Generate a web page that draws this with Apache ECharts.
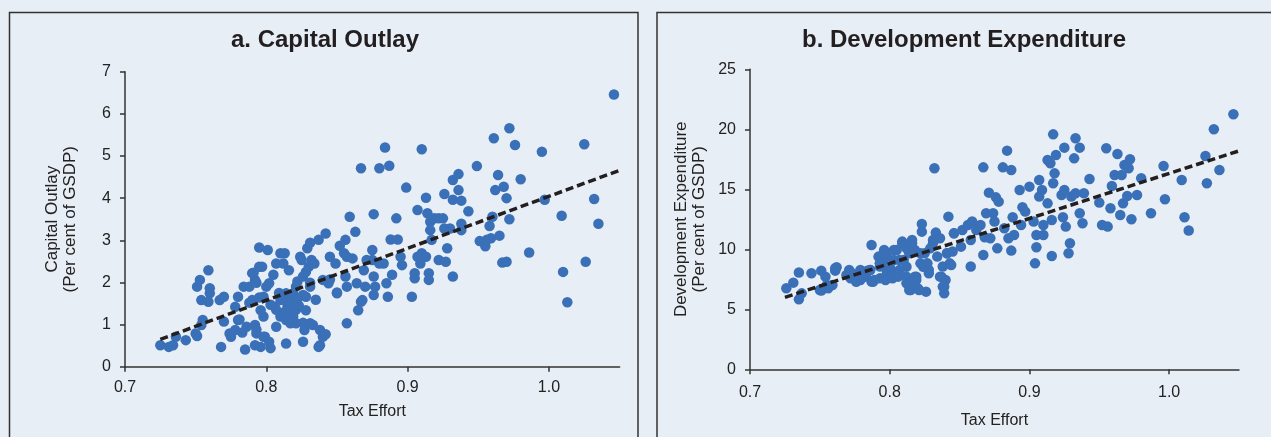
<!DOCTYPE html>
<html>
<head>
<meta charset="utf-8">
<script src="https://cdn.jsdelivr.net/npm/echarts@6/dist/echarts.min.js"></script>
<style>
html,body{margin:0;padding:0;background:#e8eef5;}
#c{width:1271px;height:437px;}
</style>
</head>
<body>
<div id="c"></div>
<script>
// ---- Panel a: Capital Outlay ----
const capTaxEffort = [
0.725,0.731,0.734,0.736,0.743,0.751,0.750,0.751,0.753,0.759,0.760,0.760,0.754,0.759,0.755,0.754,
0.768,0.770,0.767,0.770,0.774,0.775,0.778,0.780,0.778,0.780,0.784,0.785,0.786,0.788,0.790,0.792,
0.795,0.795,0.797,0.792,0.796,0.792,0.793,0.798,0.799,0.803,0.802,0.796,0.790,0.798,0.800,0.802,
0.801,0.805,0.807,0.807,0.810,0.813,0.812,0.816,0.814,0.806,0.810,0.814,0.815,0.817,0.810,0.814,
0.817,0.821,0.819,0.819,0.821,0.822,0.824,0.825,0.826,0.827,0.828,0.828,0.828,0.829,0.831,0.830,
0.832,0.834,0.831,0.831,0.833,0.837,0.838,0.838,0.840,0.842,0.837,0.842,0.840,0.844,0.845,0.849,
0.850,0.852,0.856,0.855,0.857,0.856,0.857,0.857,0.859,0.861,0.863,0.864,0.865,0.867,0.868,0.867,
0.875,0.875,0.876,0.876,0.876,0.877,0.870,0.869,0.871,0.880,0.880,0.883,0.884,0.887,0.886,0.885,
0.888,0.889,0.892,0.893,0.895,0.896,0.899,0.903,0.905,0.905,0.907,0.907,0.909,0.910,0.910,0.913,
0.913,0.915,0.915,0.914,0.916,0.916,0.917,0.919,0.922,0.922,0.925,0.926,0.926,0.927,0.928,0.930,
0.932,0.932,0.932,0.936,0.936,0.938,0.938,0.938,0.943,0.949,0.951,0.955,0.956,0.958,0.959,0.960,
0.961,0.962,0.964,0.965,0.967,0.968,0.970,0.970,0.972,0.972,0.976,0.980,0.986,0.995,0.997,1.009,
1.010,1.013,1.025,1.026,1.032,1.035,1.046,
0.812,0.817,0.821,0.819,0.826,0.807,0.803,0.795,0.788,0.781,0.783,0.793,0.798,0.791,0.793,0.826,
0.831,0.835,0.845,0.850,0.818,0.823,0.809,0.826,0.813,0.822
];
const capOutlay = [
0.51,0.47,0.51,0.71,0.63,0.73,0.79,1.90,2.06,2.29,1.86,1.74,1.58,1.54,1.11,0.99,
0.47,1.07,1.58,1.66,0.79,0.71,0.87,1.11,1.42,1.66,1.90,0.41,0.95,1.90,2.22,2.06,
2.83,2.37,2.37,0.51,0.47,0.99,0.79,1.19,0.71,0.44,0.59,1.34,1.58,1.66,1.90,1.98,
2.77,2.18,0.95,2.45,2.69,2.69,2.45,2.29,0.55,1.42,1.58,1.74,1.42,1.27,1.19,1.11,
1.03,1.03,1.19,1.74,1.90,2.02,2.61,2.53,0.59,0.87,1.34,1.66,2.25,2.81,2.94,2.37,
2.53,2.45,1.90,1.03,0.99,0.47,0.51,0.87,0.71,0.77,3.01,3.16,2.06,1.98,2.61,2.45,
1.74,2.87,3.01,2.69,2.61,2.14,1.90,1.03,3.56,2.57,3.20,1.98,1.34,1.54,1.58,4.71,
2.53,2.77,3.62,2.14,1.70,1.90,1.90,2.29,2.53,4.71,2.45,2.45,5.20,4.77,1.66,1.98,
3.02,2.18,3.52,3.02,2.61,2.41,4.25,1.66,2.22,2.10,2.61,3.72,2.45,5.16,2.69,4.01,
2.61,2.22,2.06,3.64,3.44,3.24,3.01,3.52,3.52,2.53,3.52,4.10,3.28,2.49,2.81,3.28,
2.14,4.43,3.96,4.57,4.19,3.94,3.39,3.24,3.69,4.76,2.98,2.86,3.01,3.34,3.05,3.56,
5.42,4.19,4.55,3.11,2.47,4.27,4.00,2.49,3.50,5.66,5.26,4.45,2.71,5.10,3.96,3.58,
2.25,1.53,5.28,2.49,3.98,3.39,6.46,
1.59,1.43,1.35,1.12,1.04,1.35,1.47,1.64,1.52,1.12,0.81,0.88,0.71,2.23,1.99,2.14,
1.99,1.59,2.07,1.76,1.55,1.45,1.75,1.70,1.30,1.62
];
const capTrendX = [0.725, 1.05];
const capTrendY = [0.65, 4.66];

// ---- Panel b: Development Expenditure ----
const devTaxEffort = [
0.726,0.731,0.735,0.735,0.737,0.744,0.751,0.751,0.754,0.756,0.759,0.761,0.762,0.771,0.773,0.776,
0.779,0.782,0.784,0.787,0.787,0.792,0.793,0.795,0.796,0.797,0.797,0.800,0.802,0.805,0.806,0.809,
0.810,0.812,0.813,0.815,0.816,0.818,0.819,0.820,0.822,0.823,0.823,0.825,0.826,0.827,0.828,0.829,
0.831,0.832,0.833,0.836,0.837,0.838,0.838,0.839,0.840,0.841,0.842,0.844,0.845,0.846,0.851,0.852,
0.856,0.858,0.858,0.859,0.862,0.865,0.867,0.867,0.868,0.869,0.871,0.872,0.874,0.875,0.876,0.877,
0.878,0.881,0.882,0.884,0.885,0.887,0.887,0.888,0.889,0.893,0.894,0.895,0.897,0.900,0.903,0.904,
0.905,0.905,0.907,0.907,0.909,0.910,0.910,0.913,0.913,0.915,0.916,0.916,0.917,0.917,0.918,0.919,
0.923,0.924,0.925,0.925,0.926,0.928,0.929,0.930,0.932,0.933,0.933,0.936,0.936,0.938,0.939,0.943,
0.950,0.952,0.955,0.956,0.958,0.959,0.961,0.963,0.965,0.966,0.967,0.968,0.970,0.971,0.972,0.973,
0.977,0.980,0.987,0.996,0.997,1.009,1.011,1.014,1.026,1.027,1.032,1.036,1.046,
0.772,0.779,0.783,0.788,0.793,0.798,0.802,0.807,0.812,0.793,0.798,0.807,0.814,0.812,0.814,0.819,
0.786,0.781,0.776,0.769,0.755,0.750,0.761,
0.772,0.779,0.786,0.789,0.796,0.793,0.798,0.803,0.805,0.809,0.812,0.816,0.815,0.821,0.818,0.822,
0.824,0.828,0.831,0.834,0.836,0.839,0.841,0.843,0.846,0.803,0.779
];
const devExpenditure = [
6.75,7.22,5.83,8.06,6.33,8.00,8.22,6.56,7.72,6.75,7.03,8.22,8.50,8.28,8.00,7.58,
7.72,7.86,8.22,10.36,7.31,9.39,8.56,8.83,9.94,7.44,9.39,8.56,8.14,9.94,7.72,10.64,
9.11,10.08,7.17,6.61,10.78,9.94,7.72,6.75,8.83,12.11,11.47,9.67,6.47,8.83,8.28,10.08,
10.78,16.75,11.39,10.92,7.72,8.56,6.89,6.33,7.44,9.67,12.72,8.69,9.81,11.33,10.22,11.61,
12.03,8.56,10.78,12.31,11.61,12.03,9.53,16.83,11.00,13.00,14.72,10.92,13.00,12.31,14.33,10.08,
13.97,16.83,11.75,18.22,10.92,9.89,16.61,12.67,11.19,14.94,12.03,13.50,13.14,15.22,12.31,8.83,
10.17,11.19,15.78,14.39,14.94,12.03,11.19,17.44,13.83,17.17,9.44,12.44,15.50,19.58,16.33,17.86,
14.53,12.67,18.47,14.94,11.89,9.67,10.50,14.39,17.58,19.25,14.67,13.00,18.47,12.17,14.67,15.86,
13.89,12.03,18.42,11.89,13.42,15.28,16.19,17.94,12.86,16.19,13.83,17.03,14.44,16.75,17.50,12.50,
14.53,15.92,13.00,16.94,14.17,15.78,12.67,11.56,17.78,15.50,20.00,16.61,21.25,
7.58,7.44,7.72,7.30,7.58,8.00,7.58,8.27,7.72,8.83,9.39,9.11,9.67,7.17,6.61,7.44,
8.27,8.00,7.30,7.86,7.03,6.61,8.42,
8.00,7.72,8.27,7.44,9.67,8.83,8.27,9.11,7.86,10.50,8.55,10.50,7.17,6.61,7.72,9.67,
8.55,8.00,10.50,9.39,7.72,6.89,9.67,8.83,11.33,9.94,8.27
];
const devTrendX = [0.725, 1.05];
const devTrendY = [6.0, 18.2];

const xTickValues = [0.7, 0.8, 0.9, 1.0];

function zip(a, b) { return a.map((v, i) => [v, b[i]]); }

const DOT = '#3a70b8';
const AXIS = '#333333';
const TXT = '#222222';
const FONT = 'Liberation Sans, Arial, Helvetica, sans-serif';

function xAxisCfg(gridIndex, labelMargin, nameGap) {
  return {
    gridIndex: gridIndex, type: 'value', min: 0.7, max: 1.05,
    name: 'Tax Effort', nameLocation: 'middle', nameGap: nameGap,
    nameTextStyle: { color: TXT, fontSize: 16, fontFamily: FONT },
    axisLine: { show: true, lineStyle: { color: AXIS, width: 1.5 } },
    axisTick: { show: true, length: 5, inside: false, customValues: xTickValues, lineStyle: { color: AXIS, width: 1.5 } },
    axisLabel: { customValues: xTickValues, margin: labelMargin, color: TXT, fontSize: 16, fontFamily: FONT,
      formatter: v => Number(v).toFixed(1) },
    splitLine: { show: false }
  };
}
function yAxisCfg(gridIndex, max, interval, name, nameGap) {
  return {
    gridIndex: gridIndex, type: 'value', min: 0, max: max, interval: interval,
    name: name, nameLocation: 'middle', nameRotate: 90, nameGap: nameGap,
    nameTextStyle: { color: TXT, fontSize: 17, fontFamily: FONT, lineHeight: 18 },
    axisLine: { show: true, lineStyle: { color: AXIS, width: 1.5 } },
    axisTick: { show: true, length: 5, inside: false, lineStyle: { color: AXIS, width: 1.5 } },
    axisLabel: { margin: 14, color: TXT, fontSize: 16, fontFamily: FONT },
    splitLine: { show: false }
  };
}

const chart = echarts.init(document.getElementById('c'), null, { renderer: 'canvas' });
chart.setOption({
  backgroundColor: '#e8eef5',
  animation: false,
  title: [
    { text: 'a. Capital Outlay', left: 320, top: 23, textAlign: 'center',
      textStyle: { fontSize: 24, fontWeight: 'bold', color: '#231f20', fontFamily: FONT } },
    { text: 'b. Development Expenditure', left: 959, top: 23, textAlign: 'center',
      textStyle: { fontSize: 24, fontWeight: 'bold', color: '#231f20', fontFamily: FONT } }
  ],
  graphic: [
    { type: 'rect', shape: { x: 9.5, y: 12.5, width: 628.5, height: 440 },
      style: { fill: 'none', stroke: '#333', lineWidth: 1.5 }, silent: true, z: -1 },
    { type: 'rect', shape: { x: 657, y: 12.5, width: 700, height: 440 },
      style: { fill: 'none', stroke: '#333', lineWidth: 1.5 }, silent: true, z: -1 }
  ],
  grid: [
    { left: 125, top: 71.7, width: 494.6, height: 295, containLabel: false, outerBoundsMode: 'none' },
    { left: 750, top: 69.3, width: 489, height: 300, containLabel: false, outerBoundsMode: 'none' }
  ],
  xAxis: [ xAxisCfg(0, 13, 37), xAxisCfg(1, 15, 43) ],
  yAxis: [
    yAxisCfg(0, 7, 1, 'Capital Outlay\n(Per cent of GSDP)', 46),
    yAxisCfg(1, 25, 5, 'Development Expenditure\n(Per cent of GSDP)', 42)
  ],
  series: [
    { type: 'scatter', xAxisIndex: 0, yAxisIndex: 0, data: zip(capTaxEffort, capOutlay),
      symbolSize: 10.5, itemStyle: { color: DOT, opacity: 1 }, z: 2 },
    { type: 'line', xAxisIndex: 0, yAxisIndex: 0, data: zip(capTrendX, capTrendY),
      symbol: 'none', lineStyle: { color: '#231f20', width: 3.5, type: [8, 4] }, z: 3 },
    { type: 'scatter', xAxisIndex: 1, yAxisIndex: 1, data: zip(devTaxEffort, devExpenditure),
      symbolSize: 10.5, itemStyle: { color: DOT, opacity: 1 }, z: 2 },
    { type: 'line', xAxisIndex: 1, yAxisIndex: 1, data: zip(devTrendX, devTrendY),
      symbol: 'none', lineStyle: { color: '#231f20', width: 3.5, type: [8, 4] }, z: 3 }
  ]
});
</script>
</body>
</html>
